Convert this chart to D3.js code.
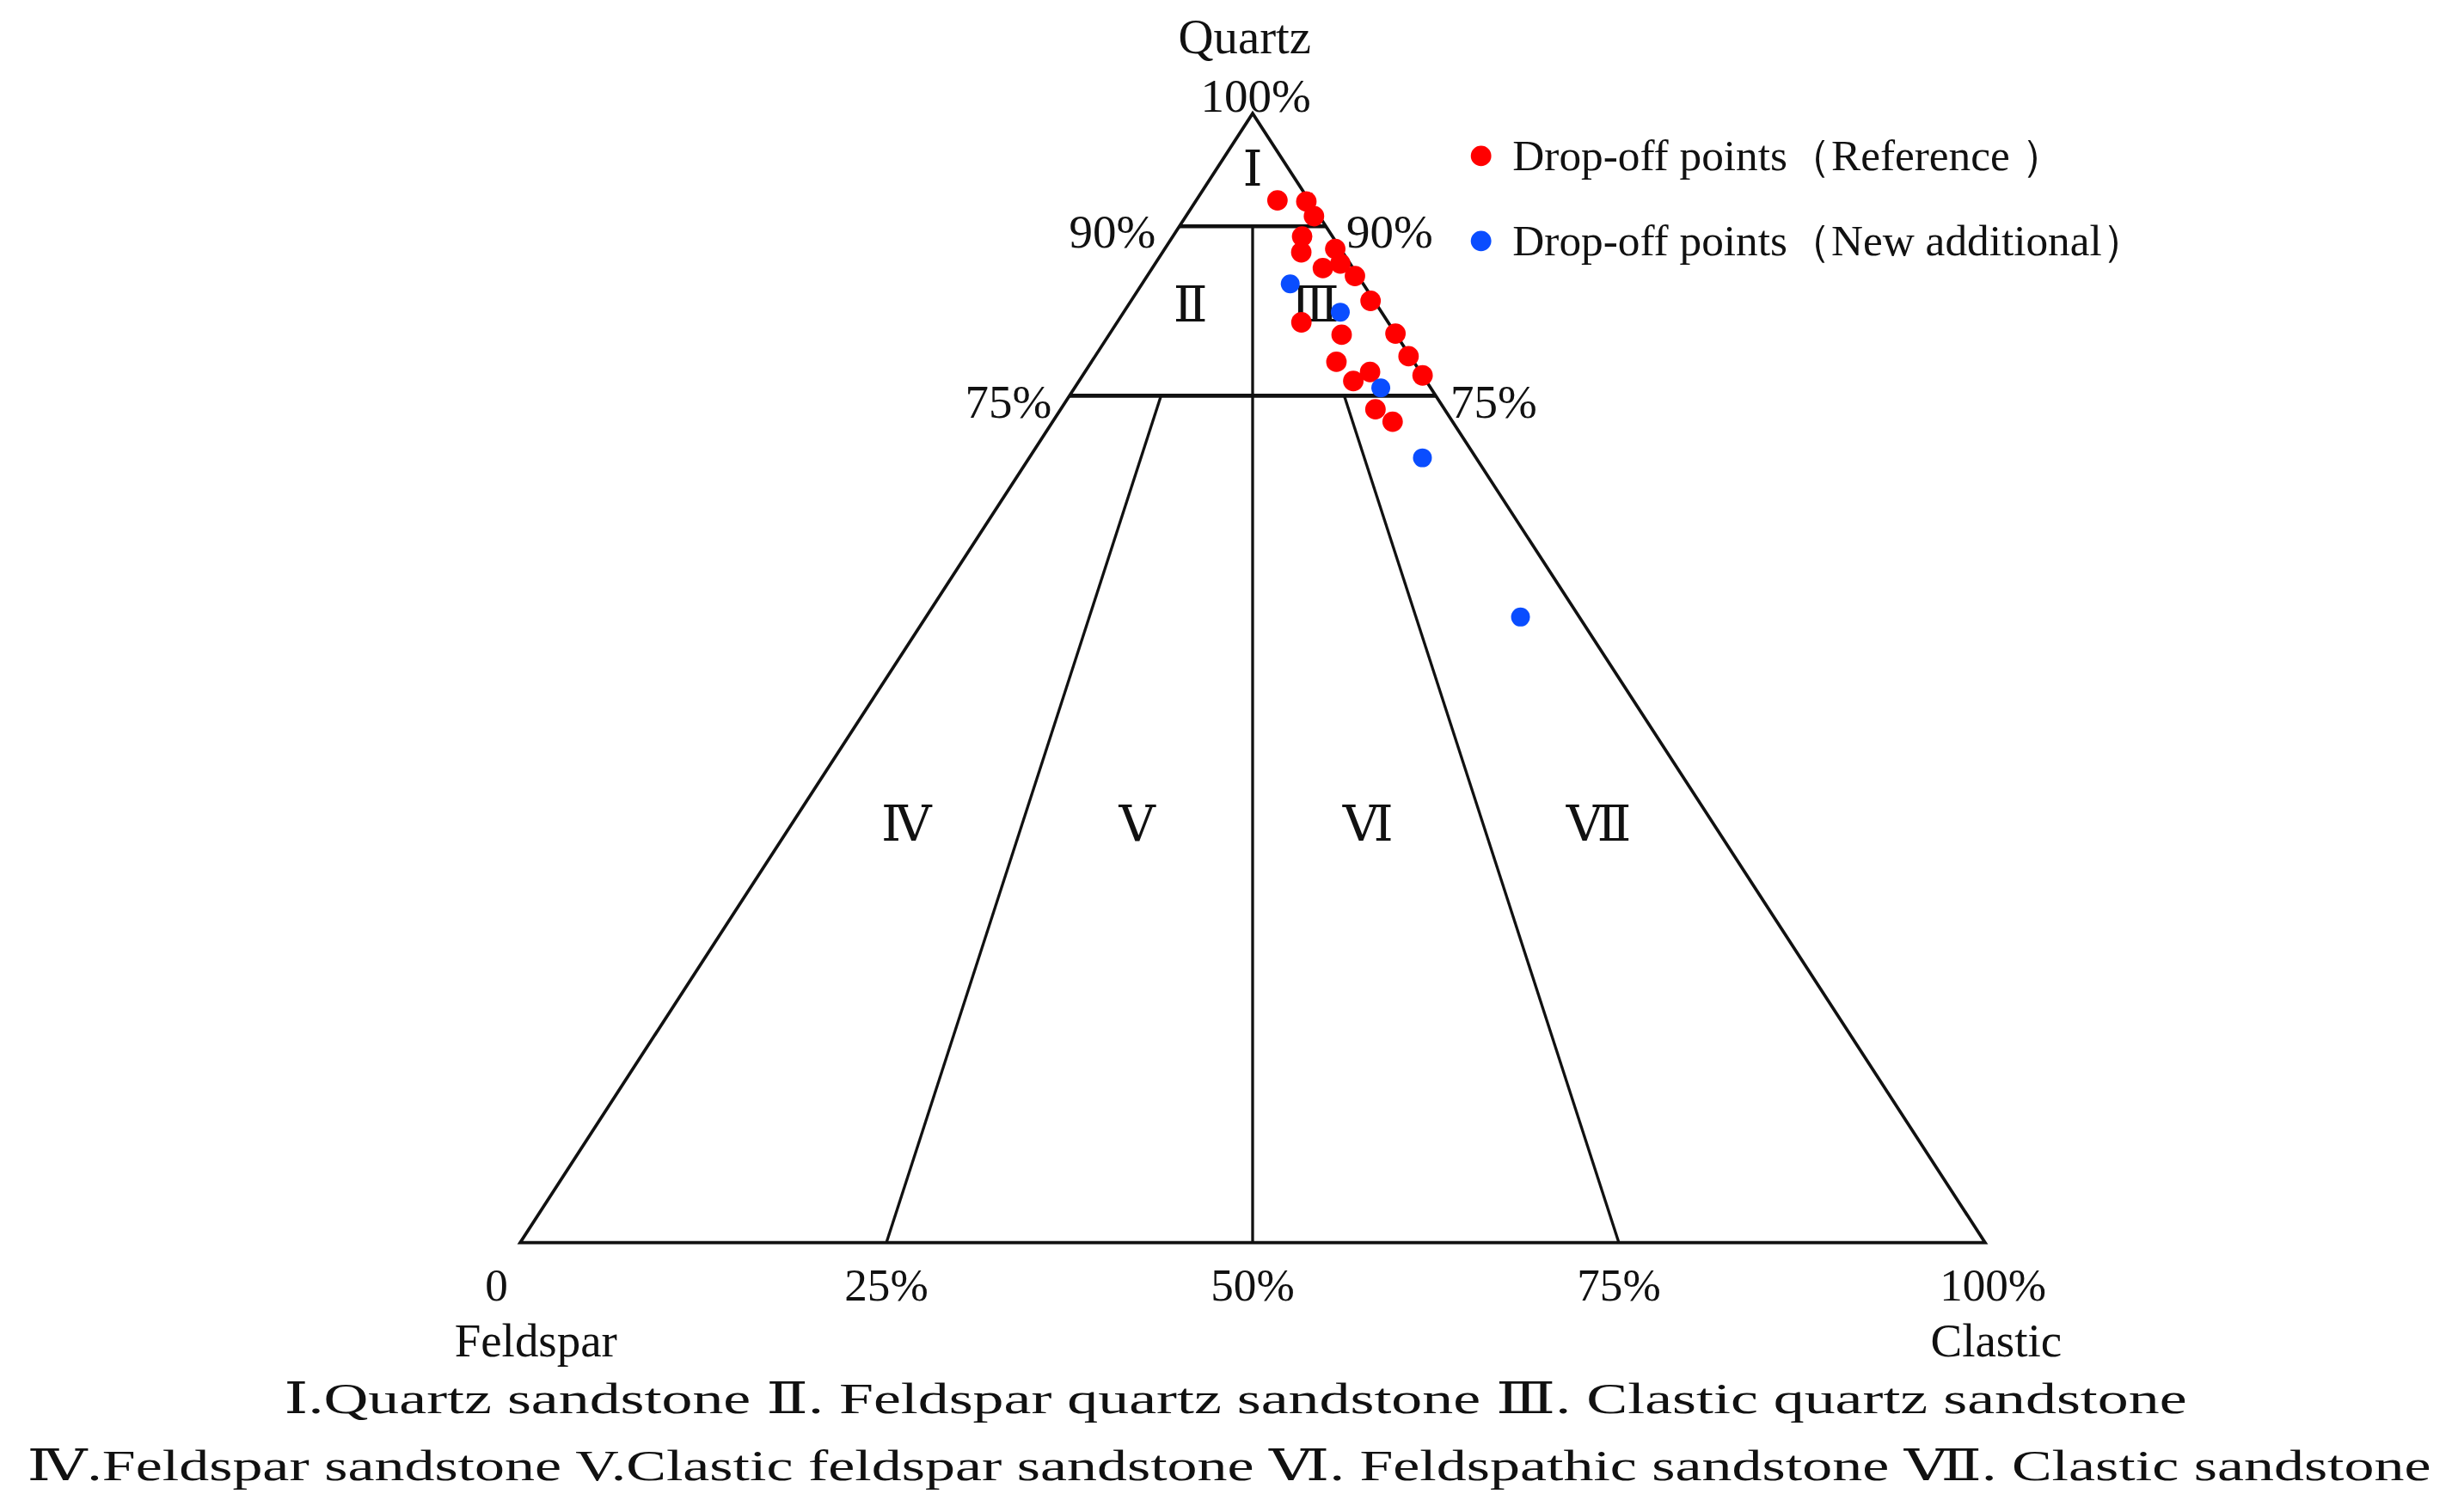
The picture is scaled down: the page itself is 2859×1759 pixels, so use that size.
<!DOCTYPE html>
<html>
<head>
<meta charset="utf-8">
<script src="https://cdn.jsdelivr.net/npm/d3@7"></script>
<style>
  body { margin: 0; background: #fff; }
  text { font-family: 'Liberation Serif', 'DejaVu Serif', serif; fill: #111; }
</style>
</head>
<body>
<svg id="chart"></svg>
<script>
// Quartz % and clastic ratio C/(F+C) for each drop-off point
var refQuartz = [92.3, 92.2, 90.9, 89.1, 87.7, 88.0, 86.3, 86.7, 85.6, 83.4, 81.5, 80.4, 80.5, 78.5, 78.0, 77.1, 76.3, 76.8, 73.8, 72.7];
var refRatio  = [0.72, 0.97, 0.96, 0.81, 0.77, 0.97, 0.85, 0.95, 0.985, 0.985, 0.68, 0.81, 1.0, 0.995, 0.76, 0.85, 0.79, 1.0, 0.82, 0.85];
var newQuartz = [84.9, 82.4, 75.7, 69.5, 55.4];
var newRatio  = [0.67, 0.84, 0.86, 0.88, 0.91];
var baseTicks = ['0', '25%', '50%', '75%', '100%'];
var regionNames = ['Ⅰ', 'Ⅱ', 'Ⅲ', 'Ⅳ', 'Ⅴ', 'Ⅵ', 'Ⅶ'];
var captionLines = [
  'Ⅰ.Quartz sandstone  Ⅱ. Feldspar quartz sandstone  Ⅲ. Clastic quartz sandstone',
  'Ⅳ.Feldspar sandstone  V.Clastic feldspar sandstone  Ⅵ. Feldspathic sandstone  Ⅶ. Clastic sandstone'
];

var svg = d3.select('#chart')
  .attr('width', 2859).attr('height', 1759)
  .attr('viewBox', '0 0 1560 960');

// Triangle frame: base from x 330 to 1260 at y 789, apex at y 72
var xBase = d3.scaleLinear().domain([0, 1]).range([330, 1260]);
var yQ = d3.scaleLinear().domain([0, 100]).range([789, 72]);
var apexX = (xBase(0) + xBase(1)) / 2;

// ternary point: quartz %, clastic ratio
function pt(q, r) {
  var f = q / 100;
  var left = xBase(0) + (apexX - xBase(0)) * f;
  var right = xBase(1) - (xBase(1) - apexX) * f;
  return [left + (right - left) * r, yQ(q)];
}

var line = d3.line();
var g = svg.append('g').attr('fill', 'none').attr('stroke', '#111');

g.append('path').attr('stroke-width', 2)
  .attr('d', line([pt(0, 0), pt(0, 1), pt(100, 0.5)]) + 'Z');
g.append('path').attr('stroke-width', 2.5).attr('d', line([pt(90, 0), pt(90, 1)]));
g.append('path').attr('stroke-width', 2.5).attr('d', line([pt(75, 0), pt(75, 1)]));
g.append('path').attr('stroke-width', 1.8).attr('d', line([pt(90, 0.5), pt(0, 0.5)]));
g.append('path').attr('stroke-width', 1.8).attr('d', line([pt(75, 0.25), pt(0, 0.25)]));
g.append('path').attr('stroke-width', 1.8).attr('d', line([pt(75, 0.75), pt(0, 0.75)]));

// region labels
var regionPos = [[95, 0.5], [83, 0.25], [83, 0.75], [37, 0.125], [37, 0.375], [37, 0.625], [37, 0.875]];
svg.selectAll('.region').data(regionNames).enter().append('text')
  .attr('class', 'region')
  .attr('x', (d, i) => pt(regionPos[i][0], regionPos[i][1])[0])
  .attr('y', (d, i) => pt(regionPos[i][0], regionPos[i][1])[1] + 10)
  .attr('text-anchor', 'middle').attr('font-size', 32)
  .text(d => d);

// percentage labels
function label(x, y, t, size, anchor) {
  return svg.append('text').attr('x', x).attr('y', y).attr('font-size', size)
    .attr('text-anchor', anchor || 'middle').text(t);
}
label(790, 34, 'Quartz', 31);
label(797, 71, '100%', 30);
label(706, 157, '90%', 30);
label(882, 157, '90%', 30);
label(640, 265, '75%', 30);
label(948, 265, '75%', 30);
baseTicks.forEach((t, i) => {
  var x = xBase(i / 4) + (i === 0 ? -15 : i === 4 ? 5 : 0);
  label(x, 826, t, 29);
});
label(340, 861, 'Feldspar', 30);
label(1267, 861, 'Clastic', 30);
label(784, 897, captionLines[0], 28)
  .attr('textLength', 1208).attr('lengthAdjust', 'spacingAndGlyphs');
label(780, 940, captionLines[1], 28)
  .attr('textLength', 1526).attr('lengthAdjust', 'spacingAndGlyphs');

// points
svg.selectAll('.ref').data(refQuartz).enter().append('circle')
  .attr('cx', (d, i) => pt(d, refRatio[i])[0])
  .attr('cy', (d, i) => pt(d, refRatio[i])[1])
  .attr('r', 6.5).attr('fill', '#ff0000');
svg.selectAll('.new').data(newQuartz).enter().append('circle')
  .attr('cx', (d, i) => pt(d, newRatio[i])[0])
  .attr('cy', (d, i) => pt(d, newRatio[i])[1])
  .attr('r', 6).attr('fill', '#0a4dff');

// legend
var legend = [['Drop-off points（Reference ）', '#ff0000'], ['Drop-off points（New additional）', '#0a4dff']];
legend.forEach((d, i) => {
  svg.append('circle').attr('cx', 940).attr('cy', 99 + i * 54).attr('r', 6.5).attr('fill', d[1]);
  svg.append('text').attr('x', 960).attr('y', 108 + i * 54).attr('font-size', 28).text(d[0]);
});
</script>
</body>
</html>
